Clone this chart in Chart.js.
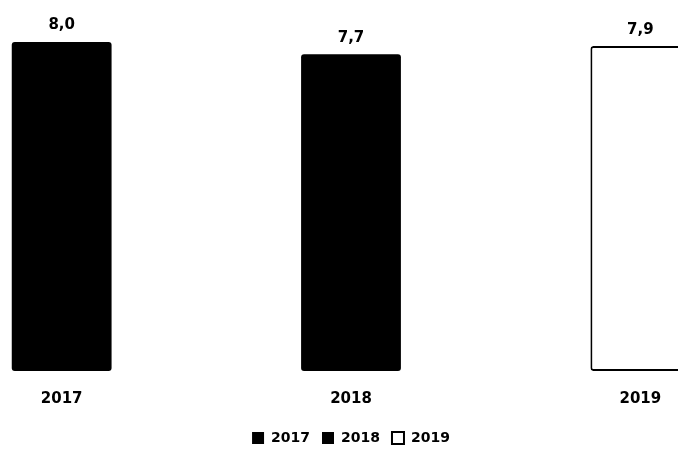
<!DOCTYPE html>
<html>
<head>
<meta charset="utf-8">
<script src="https://cdn.jsdelivr.net/npm/chart.js@4/dist/chart.umd.min.js"></script>
<style>
  html, body { margin: 0; padding: 0; background: #fff; overflow: hidden; }
  body { width: 678px; height: 450px; position: relative; }
  #wrap { position: absolute; left: -83px; top: 0; width: 868px; height: 450px; }
</style>
</head>
<body>
<div id="wrap"><canvas id="chart"></canvas></div>
<script>
const years = ['2017', '2018', '2019'];
const values = [8.0, 7.7, 7.9];
const fills = ['#000000', '#000000', '#ffffff'];

const FONT = '"DejaVu Sans", "Liberation Sans", sans-serif';
const fmt = v => v.toFixed(1).replace('.', ',');

// one dataset per year so each gets its own legend entry
const datasets = years.map((y, i) => ({
  label: y,
  data: years.map((_, j) => (j === i ? values[i] : null)),
  backgroundColor: fills[i],
  borderColor: '#000000',
  borderWidth: i === 2 ? 2 : 0,
  borderSkipped: false,
  borderRadius: 3,
  skipNull: true,
  categoryPercentage: 1,
  barPercentage: 0.345
}));

const valueLabels = {
  id: 'valueLabels',
  afterDatasetsDraw(chart) {
    const ctx = chart.ctx;
    ctx.save();
    ctx.font = 'bold 15px ' + FONT;
    ctx.fillStyle = '#000';
    ctx.textAlign = 'center';
    ctx.textBaseline = 'bottom';
    chart.data.datasets.forEach((ds, di) => {
      chart.getDatasetMeta(di).data.forEach((bar, idx) => {
        const v = ds.data[idx];
        if (v === null || v === undefined) return;
        ctx.fillText(fmt(v), bar.x, bar.y - 9);
      });
    });
    ctx.restore();
  }
};

new Chart(document.getElementById('chart'), {
  type: 'bar',
  data: { labels: years, datasets },
  options: {
    responsive: true,
    maintainAspectRatio: false,
    animation: false,
    layout: { padding: { top: 42, left: 0, right: 0, bottom: -5 } },
    scales: {
      x: {
        grid: { display: false },
        border: { display: false },
        ticks: {
          color: '#000',
          padding: 11,
          font: { family: FONT, size: 15, weight: 'bold' }
        }
      },
      y: { display: false, min: 0, max: 8 }
    },
    plugins: {
      tooltip: { enabled: false },
      legend: {
        position: 'bottom',
        labels: {
          color: '#000',
          boxWidth: 12,
          boxHeight: 12,
          padding: 12,
          font: { family: FONT, size: 14, weight: 'bold' }
        }
      }
    }
  },
  plugins: [valueLabels]
});
</script>
</body>
</html>
